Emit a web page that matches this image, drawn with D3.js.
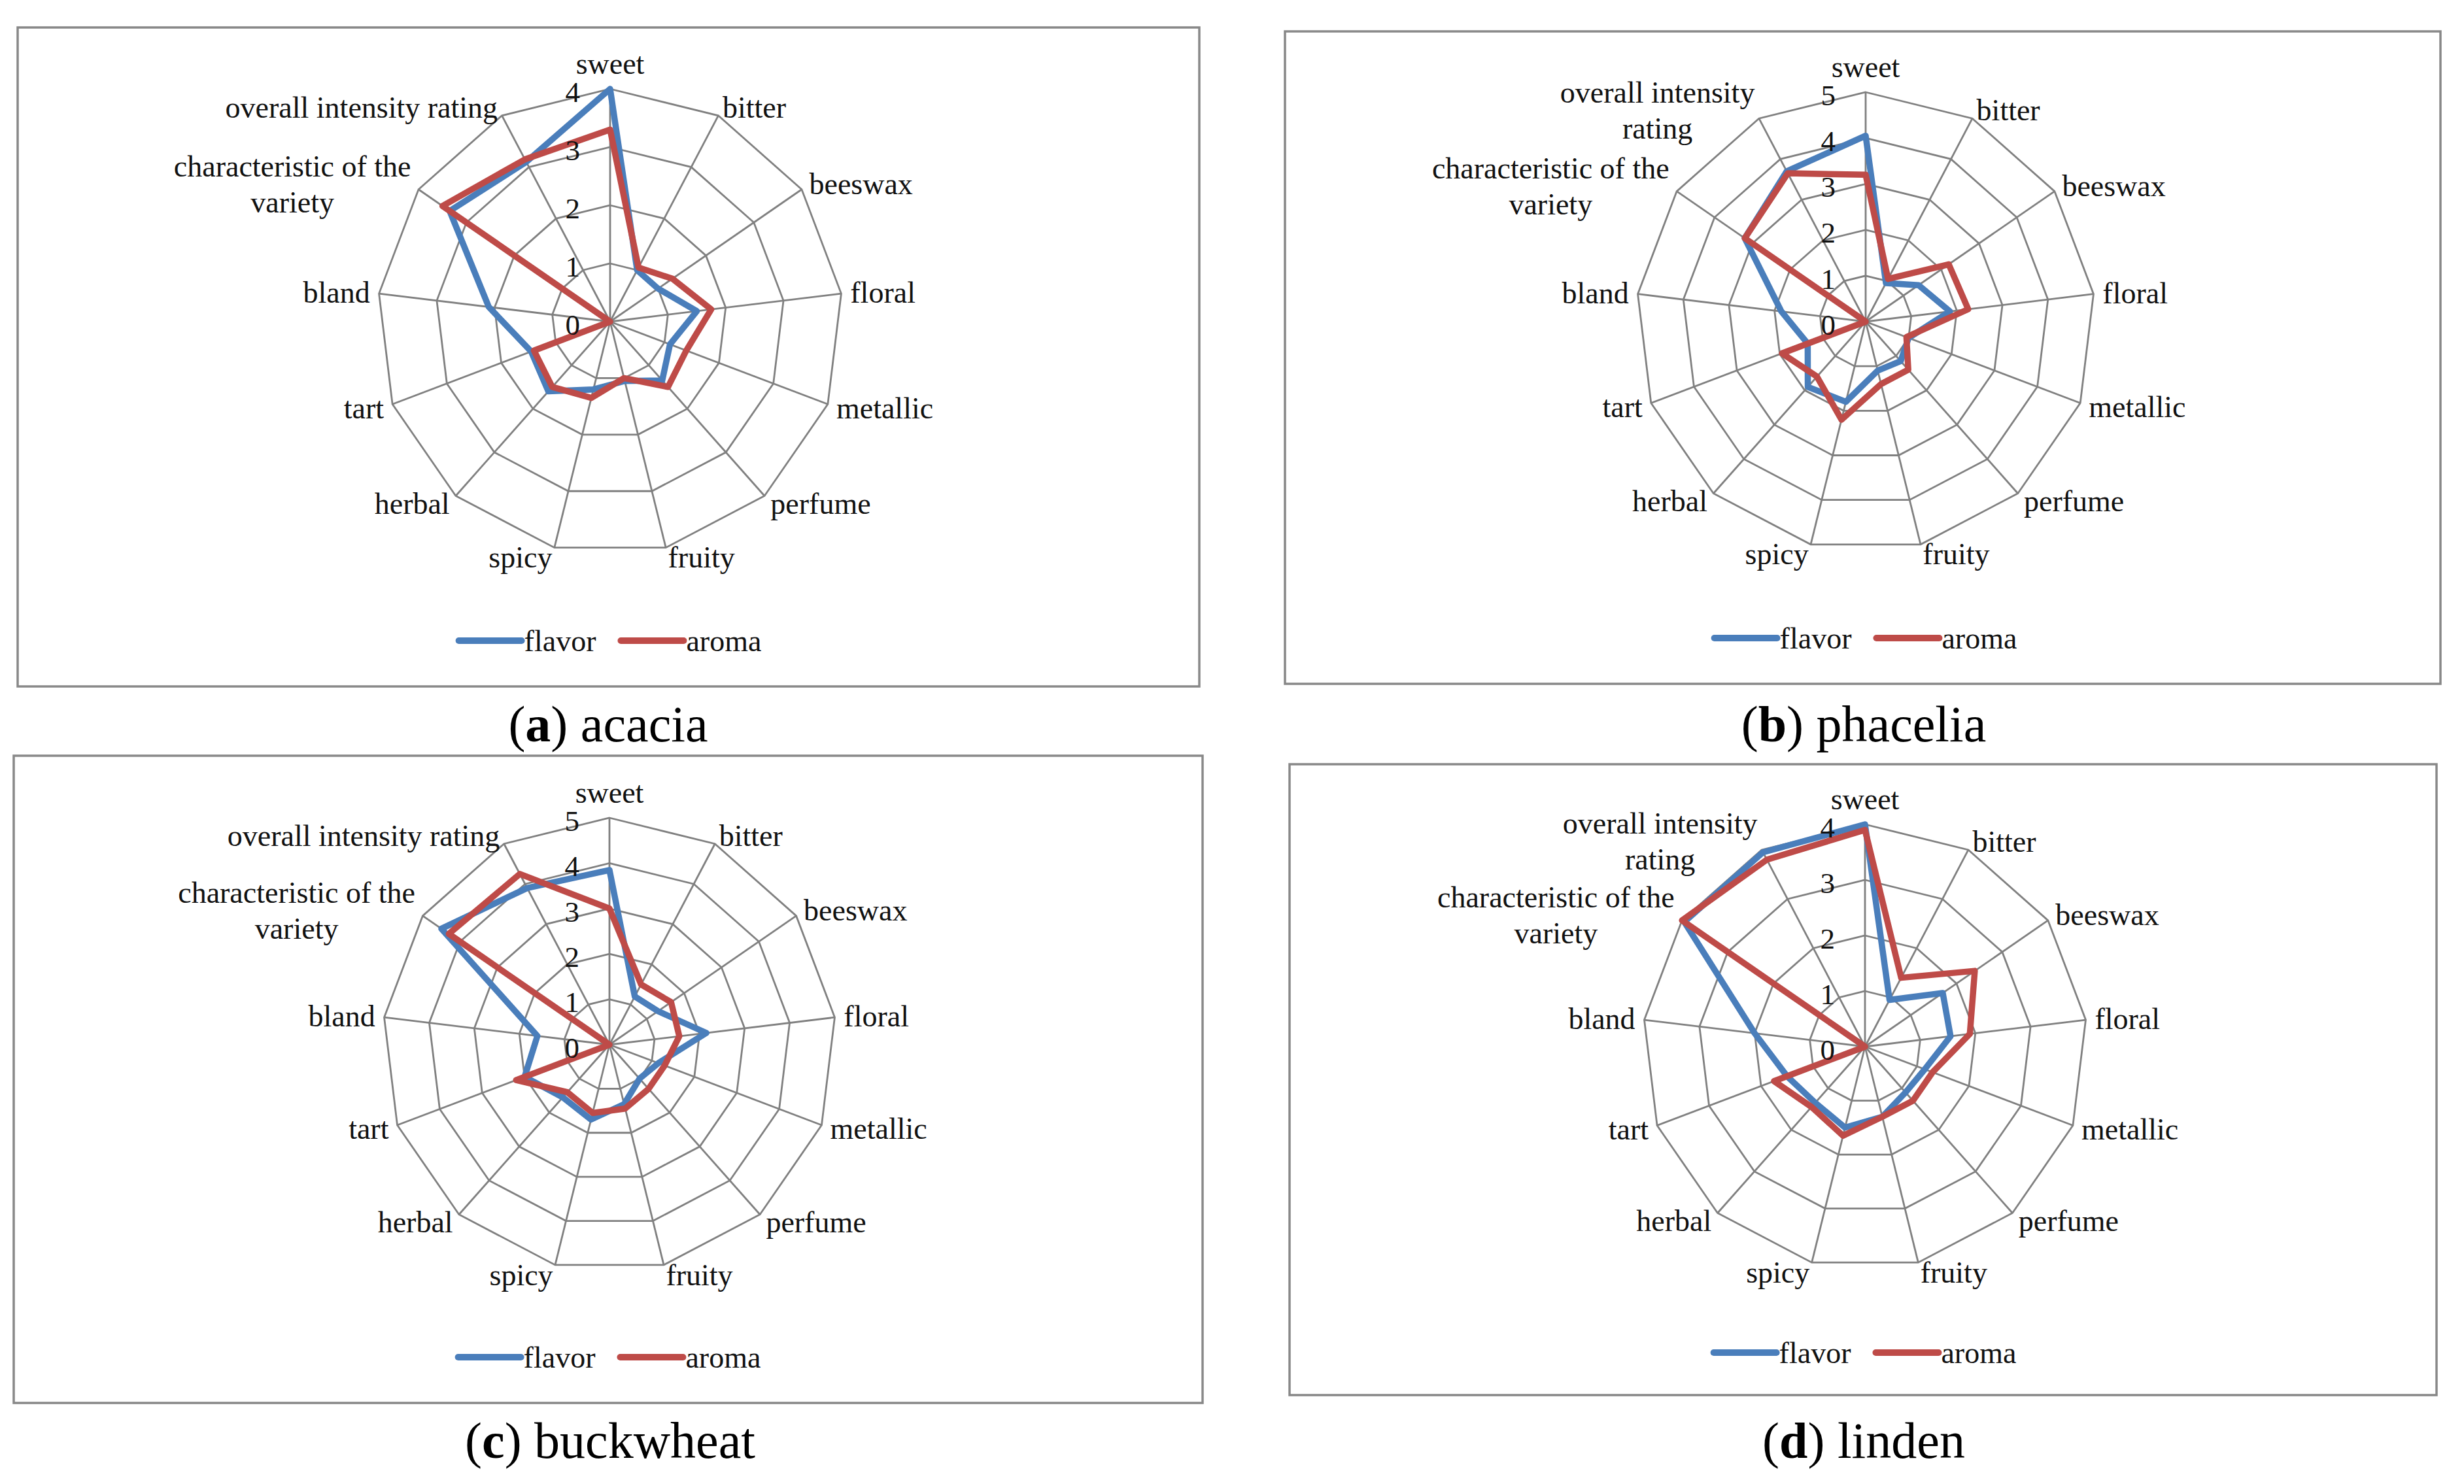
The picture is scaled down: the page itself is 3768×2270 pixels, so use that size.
<!DOCTYPE html>
<html><head><meta charset="utf-8">
<script src="https://cdn.jsdelivr.net/npm/d3@7"></script>
<style>body{margin:0;background:#fff}svg{display:block}</style>
</head><body>
<svg id="chart" width="3768" height="2270"></svg>
<script>
// ---------- data ----------
const categories = ["sweet","bitter","beeswax","floral","metallic","perfume","fruity","spicy","herbal","tart","bland","characteristic of the variety","overall intensity rating"];
const seriesNames = ["flavor","aroma"];
const panelLetters = ["a","b","c","d"];
const panelNames = ["acacia","phacelia","buckwheat","linden"];
const panelMax = [4,5,5,4];
const tickValuesA = [0,1,2,3,4];
const tickValuesB = [0,1,2,3,4,5];

const acaciaFlavor    = [4.0, 1.0, 1.0, 1.5, 1.1, 1.35, 1.05, 1.2, 1.6, 1.45, 2.1, 3.35, 3.1];
const acaciaAroma     = [3.3, 1.05, 1.3, 1.75, 1.4, 1.5, 1.0, 1.35, 1.5, 1.4, 0, 3.5, 3.15];
const phaceliaFlavor  = [4.05, 0.95, 1.4, 1.85, 1.0, 1.15, 1.1, 1.8, 1.9, 1.35, 1.85, 3.2, 3.7];
const phaceliaAroma   = [3.2, 1.05, 2.2, 2.25, 0.95, 1.4, 1.4, 2.2, 1.6, 1.95, 0, 3.2, 3.65];
const buckwheatFlavor = [3.85, 1.2, 1.3, 2.15, 1.15, 1.0, 1.35, 1.7, 1.55, 2.0, 1.6, 4.5, 3.9];
const buckwheatAroma  = [3.0, 1.5, 1.65, 1.55, 1.3, 1.3, 1.45, 1.55, 1.4, 2.2, 0, 4.3, 4.25];
const lindenFlavor    = [4.0, 0.95, 1.7, 1.55, 1.15, 1.1, 1.3, 1.5, 1.35, 1.5, 2.0, 3.95, 3.95];
const lindenAroma     = [3.9, 1.4, 2.4, 1.9, 1.3, 1.3, 1.3, 1.65, 1.45, 1.75, 0, 4.0, 3.8];

// label line breaks per panel
const labelLinesSingle = {"characteristic of the variety":["characteristic of the","variety"],"overall intensity rating":["overall intensity rating"]};
const labelLinesDouble = {"characteristic of the variety":["characteristic of the","variety"],"overall intensity rating":["overall intensity","rating"]};

// ---------- layout / style ----------
const panels = [
  {box:[27,42,1834,1050], cx:933, cy:492, R:356, flavor:acaciaFlavor, aroma:acaciaAroma, ticks:tickValuesA, lines:labelLinesSingle, legendY:980, capX:930, capY:1134},
  {box:[1965,48,3732,1046], cx:2853, cy:492, R:351, flavor:phaceliaFlavor, aroma:phaceliaAroma, ticks:tickValuesB, lines:labelLinesDouble, legendY:976, capX:2850, capY:1134},
  {box:[21,1156,1839,2146], cx:932, cy:1598, R:347, flavor:buckwheatFlavor, aroma:buckwheatAroma, ticks:tickValuesB, lines:labelLinesSingle, legendY:2076, capX:933, capY:2230},
  {box:[1972,1169,3726,2134], cx:2852, cy:1601, R:340, flavor:lindenFlavor, aroma:lindenAroma, ticks:tickValuesA, lines:labelLinesDouble, legendY:2069, capX:2850, capY:2230}
];
const colors = {flavor:"#4A7EBB", aroma:"#BE4B48"};
const gridColor = "#808080";
const font = "'Liberation Serif','Times New Roman',serif";
const labelSize = 46, tickSize = 45, capSize = 78;

const svg = d3.select("#chart");
svg.append("rect").attr("width",3768).attr("height",2270).attr("fill","#fff");

const n = categories.length;
const angle = d3.scaleLinear().domain([0,n]).range([0,2*Math.PI]);

panels.forEach((p,pi)=>{
  const max = panelMax[pi];
  const r = d3.scaleLinear().domain([0,max]).range([0,p.R]);
  const g = svg.append("g");
  // box
  g.append("rect").attr("x",p.box[0]).attr("y",p.box[1])
    .attr("width",p.box[2]-p.box[0]).attr("height",p.box[3]-p.box[1])
    .attr("fill","#fff").attr("stroke","#888").attr("stroke-width",3.5);
  const rg = g.append("g").attr("transform",`translate(${p.cx},${p.cy})`);
  // rings
  const ringLine = d3.lineRadial().angle((d,i)=>angle(i)).radius(d=>r(d)).curve(d3.curveLinearClosed);
  p.ticks.filter(t=>t>0).forEach(t=>{
    rg.append("path").attr("d",ringLine(categories.map(()=>t)))
      .attr("fill","none").attr("stroke",gridColor).attr("stroke-width",2.8);
  });
  // spokes
  categories.forEach((c,i)=>{
    const a = angle(i);
    rg.append("line").attr("x1",0).attr("y1",0)
      .attr("x2",Math.sin(a)*r(max)).attr("y2",-Math.cos(a)*r(max))
      .attr("stroke",gridColor).attr("stroke-width",2.8);
  });
  // series
  const dataLine = d3.lineRadial().angle((d,i)=>angle(i)).radius(d=>r(d)).curve(d3.curveLinearClosed);
  seriesNames.forEach(s=>{
    rg.append("path").attr("d",dataLine(p[s])).attr("fill","none")
      .attr("stroke",colors[s]).attr("stroke-width",9.5).attr("stroke-linejoin","round");
  });
  // tick labels
  p.ticks.forEach(t=>{
    rg.append("text").attr("x",-46).attr("y",-r(t)+4).attr("dy","0.35em")
      .attr("text-anchor","end").attr("font-family",font).attr("font-size",tickSize)
      .attr("fill","#111").text(t);
  });
  // category labels
  categories.forEach((c,i)=>{
    const a = angle(i), s = Math.sin(a), co = Math.cos(a);
    const vx = s*r(max), vy = -co*r(max);
    const lines = p.lines[c] || [c];
    let anchor, ax, cyc;
    if (Math.abs(s)<0.05){ anchor="middle"; ax=vx; cyc = vy-39; }
    else { anchor = s>0 ? "start":"end"; ax = vx + 14*s; cyc = vy - 15*co; }
    const t = rg.append("text").attr("font-family",font).attr("font-size",labelSize).attr("fill","#111");
    const spans = lines.map((ln,k)=>t.append("tspan").attr("text-anchor","middle")
        .attr("y", cyc + (k-(lines.length-1)/2)*55).attr("dy","0.35em").text(ln));
    const widths = spans.map(sp=>sp.node().getComputedTextLength());
    const W = d3.max(widths);
    const mid = anchor==="middle" ? ax : (anchor==="start" ? ax + W/2 : ax - W/2);
    spans.forEach(sp=>sp.attr("x",mid));
  });
  // legend
  const lg = g.append("g");
  const items = seriesNames.map(s=>{
    const tt = lg.append("text").attr("font-family",font).attr("font-size",labelSize).attr("fill","#111")
      .attr("dy","0.35em").attr("y",p.legendY).text(s);
    return {s, tt, w: tt.node().getComputedTextLength()};
  });
  const lineLen = 96, gapT = 4, gapItem = 38;
  const total = d3.sum(items,d=>lineLen+gapT+d.w) + gapItem*(items.length-1);
  let x = p.cx - total/2;
  items.forEach(it=>{
    lg.append("line").attr("x1",x).attr("x2",x+lineLen).attr("y1",p.legendY).attr("y2",p.legendY)
      .attr("stroke",colors[it.s]).attr("stroke-width",10).attr("stroke-linecap","round");
    it.tt.attr("x",x+lineLen+gapT);
    x += lineLen+gapT+it.w+gapItem;
  });
  // caption
  const cap = svg.append("text").attr("x",p.capX).attr("y",p.capY).attr("text-anchor","middle")
    .attr("font-family",font).attr("font-size",capSize).attr("fill","#000");
  cap.append("tspan").text("(");
  cap.append("tspan").attr("font-weight","bold").text(panelLetters[pi]);
  cap.append("tspan").text(") " + panelNames[pi]);
});
</script>
</body></html>
